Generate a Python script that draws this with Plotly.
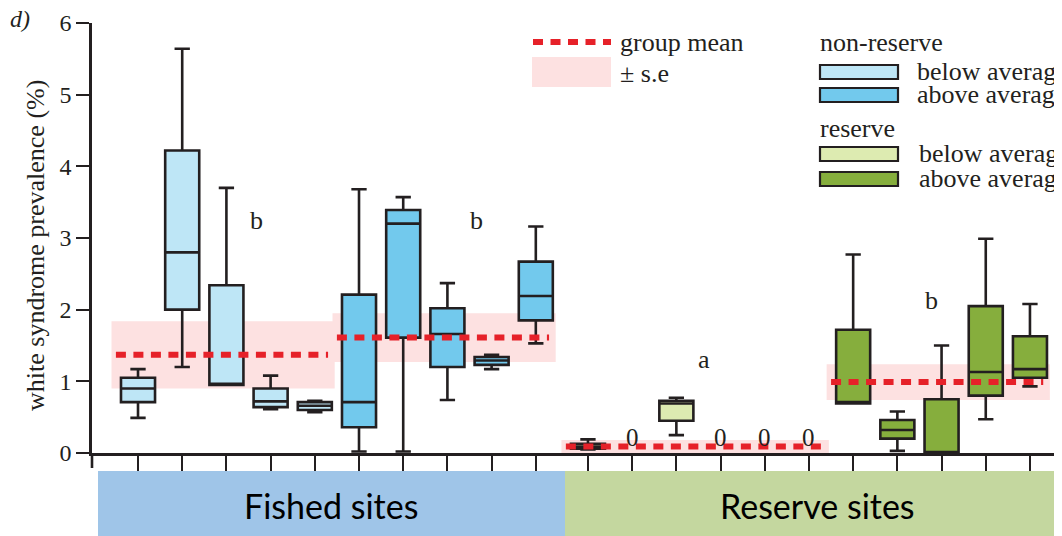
import plotly.graph_objects as go

# ---------------- data ----------------
group_names = ["non-reserve below average", "non-reserve above average",
               "reserve below average", "reserve above average"]
group_letters = ["b", "b", "a", "b"]
group_mean = [1.37, 1.61, 0.09, 0.99]
group_se = [0.47, 0.34, 0.09, 0.25]

# five-number summaries per site (None = zero prevalence, no box drawn)
nrb_low = [0.49, 1.20, 0.95, 0.61, 0.57]
nrb_q1 = [0.71, 2.00, 0.95, 0.64, 0.60]
nrb_med = [0.90, 2.80, 0.95, 0.72, 0.66]
nrb_q3 = [1.05, 4.22, 2.34, 0.90, 0.71]
nrb_up = [1.17, 5.64, 3.70, 1.08, 0.73]

nra_low = [0.02, 0.02, 0.74, 1.17, 1.53]
nra_q1 = [0.36, 1.61, 1.20, 1.23, 1.85]
nra_med = [0.71, 3.20, 1.66, 1.29, 2.19]
nra_q3 = [2.21, 3.39, 2.02, 1.34, 2.67]
nra_up = [3.68, 3.57, 2.37, 1.37, 3.16]

rb_low = [0.05, None, 0.25, None, None, None]
rb_q1 = [0.06, None, 0.45, None, None, None]
rb_med = [0.09, None, 0.69, None, None, None]
rb_q3 = [0.13, None, 0.73, None, None, None]
rb_up = [0.19, None, 0.77, None, None, None]

ra_low = [0.69, 0.03, 0.00, 0.47, 0.93]
ra_q1 = [0.69, 0.20, 0.00, 0.80, 1.05]
ra_med = [0.71, 0.32, 0.00, 1.13, 1.17]
ra_q3 = [1.72, 0.46, 0.75, 2.05, 1.63]
ra_up = [2.77, 0.58, 1.50, 2.99, 2.08]

site_labels = ["Fished sites", "Reserve sites"]
legend_headers = ["non-reserve", "reserve"]
legend_items = ["below average", "above average"]
y_ticks = [0, 1, 2, 3, 4, 5, 6]

# ---------------- styling ----------------
fills = ["#BEE6F6", "#72C9ED", "#DDEBB1", "#86AE3D"]
band_colors = ["#9FC5E8", "#C4D79F"]
line_col = "#231F20"
red = "#E62129"
pink = "#FDE1E1"
serif = "Liberation Serif"

# page body has an 8px margin; figure sized so it ends at the window edge
OFF = 8
W, H = 1062 - OFF, 536 - OFF
L, R, T, B = 92, 1062, 23, 453          # plot area in window pixels
def px(x):
    return (x - L) / (R - L)
def py(y):
    return (B - y) / (B - T)

groups = [
    (nrb_low, nrb_q1, nrb_med, nrb_q3, nrb_up),
    (nra_low, nra_q1, nra_med, nra_q3, nra_up),
    (rb_low, rb_q1, rb_med, rb_q3, rb_up),
    (ra_low, ra_q1, ra_med, ra_q3, ra_up),
]
reserve_gap = 0.18

fig = go.Figure()
shapes = []
annotations = []

def note(x, y, text, size=26, xa="center", ya="middle", ref="paper", **kw):
    annotations.append(dict(x=x, y=y, xref=ref if ref == "paper" else "x",
                            yref=ref if ref == "paper" else "y", text=text,
                            xanchor=xa, yanchor=ya, showarrow=False,
                            font=kw.pop("font", dict(family=serif, size=size, color=line_col)), **kw))

start = 0
all_pos = []
group_pos = []
for gi, (lo, q1, me, q3, up) in enumerate(groups):
    gap = reserve_gap if gi >= 2 else 0.0
    pos = [start + k + gap for k in range(len(q1))]
    group_pos.append(pos)
    all_pos += pos
    start += len(q1)
    keep = [k for k in range(len(q1)) if q1[k] is not None]
    fig.add_trace(go.Box(
        x=[pos[k] for k in keep],
        lowerfence=[lo[k] for k in keep],
        q1=[q1[k] for k in keep],
        median=[me[k] for k in keep],
        q3=[q3[k] for k in keep],
        upperfence=[up[k] for k in keep],
        fillcolor=fills[gi],
        line=dict(color=line_col, width=2.6),
        width=0.77,
        whiskerwidth=0.45,
        name=group_names[gi],
        showlegend=False,
        hoverinfo="skip",
    ))
    for k in range(len(q1)):
        if q1[k] is None:
            note(pos[k], 0.22, "0", size=25, ref="data")
    m, s = group_mean[gi], group_se[gi]
    shapes.append(dict(type="rect", xref="x", yref="y", x0=pos[0] - 0.6, x1=pos[-1] + 0.45,
                       y0=max(m - s, 0), y1=m + s, fillcolor=pink, line=dict(width=0), layer="below"))
    shapes.append(dict(type="line", xref="x", yref="y", x0=pos[0] - 0.5, x1=pos[-1] + 0.3,
                       y0=m, y1=m, line=dict(color=red, width=6, dash="10px,7.5px"), layer="above"))

# significance letters
letter_place = [(2.67, 3.24), (2.65, 3.24), (2.62, 1.30), (1.78, 2.13)]
for gi, (dx, yy) in enumerate(letter_place):
    note(group_pos[gi][0] + dx, yy, group_letters[gi], size=26, ref="data")

# y-axis title and panel label
note(px(36), py(246), "white syndrome prevalence (%)", size=26, textangle=-90)
note(px(8), py(19), "<i>d)</i>", size=24, xa="left")

# legend: group mean / s.e
shapes.append(dict(type="line", xref="paper", yref="paper", x0=px(533), x1=px(611), y0=py(42), y1=py(42),
                   line=dict(color=red, width=6, dash="10px,7.5px")))
shapes.append(dict(type="rect", xref="paper", yref="paper", x0=px(532), x1=px(611), y0=py(87), y1=py(57),
                   fillcolor=pink, line=dict(width=0)))
note(px(618), py(43), "group mean", xa="left")
note(px(618), py(73), "± s.e", xa="left")

# legend: colour boxes
header_y = [42, 128]
box_y = [[65, 88], [147, 172]]
text_x = [915, 917]
for hi, hdr in enumerate(legend_headers):
    note(px(818), py(header_y[hi]), hdr, xa="left")
    for ii, item in enumerate(legend_items):
        y0 = box_y[hi][ii]
        shapes.append(dict(type="rect", xref="paper", yref="paper", x0=px(820), x1=px(898),
                           y0=py(y0 + 14), y1=py(y0), fillcolor=fills[hi * 2 + ii],
                           line=dict(color=line_col, width=2.2)))
        note(px(text_x[hi]), py(y0 + 6), item, xa="left")

# site bands below the axis
band_x = [(98, 565), (565, 1062)]
label_x = [331, 817]
for bi, lab in enumerate(site_labels):
    x0, x1 = band_x[bi]
    shapes.append(dict(type="rect", xref="paper", yref="paper", x0=px(x0), x1=px(x1),
                       y0=py(536), y1=py(471), fillcolor=band_colors[bi], line=dict(width=0)))
    note(px(label_x[bi]), py(505), lab, font=dict(family="Lato", size=34, color="#000000"))

# y-axis line extension below the x-axis
shapes.append(dict(type="line", xref="paper", yref="paper", x0=0, x1=0, y0=py(453), y1=py(468),
                   line=dict(color=line_col, width=2.6)))

fig.update_layout(
    width=W, height=H,
    margin=dict(l=L - OFF, r=0, t=T - OFF, b=H - (B - OFF), pad=0),
    paper_bgcolor="white", plot_bgcolor="white",
    shapes=shapes, annotations=annotations,
    showlegend=False,
    xaxis=dict(range=[-1.041, 20.905], showgrid=False, zeroline=False, showline=True,
               linecolor=line_col, linewidth=2.6, ticks="outside", ticklen=15, tickwidth=2.2,
               tickcolor=line_col, tickvals=all_pos, showticklabels=False, fixedrange=True),
    yaxis=dict(range=[0, 6], showgrid=False, zeroline=False, showline=True,
               linecolor=line_col, linewidth=2.6, ticks="outside", ticklen=13, tickwidth=2.2,
               tickcolor=line_col, tickvals=y_ticks, ticktext=[str(v) for v in y_ticks],
               tickfont=dict(family=serif, size=24, color=line_col), fixedrange=True),
)

fig.write_html("out.html")
